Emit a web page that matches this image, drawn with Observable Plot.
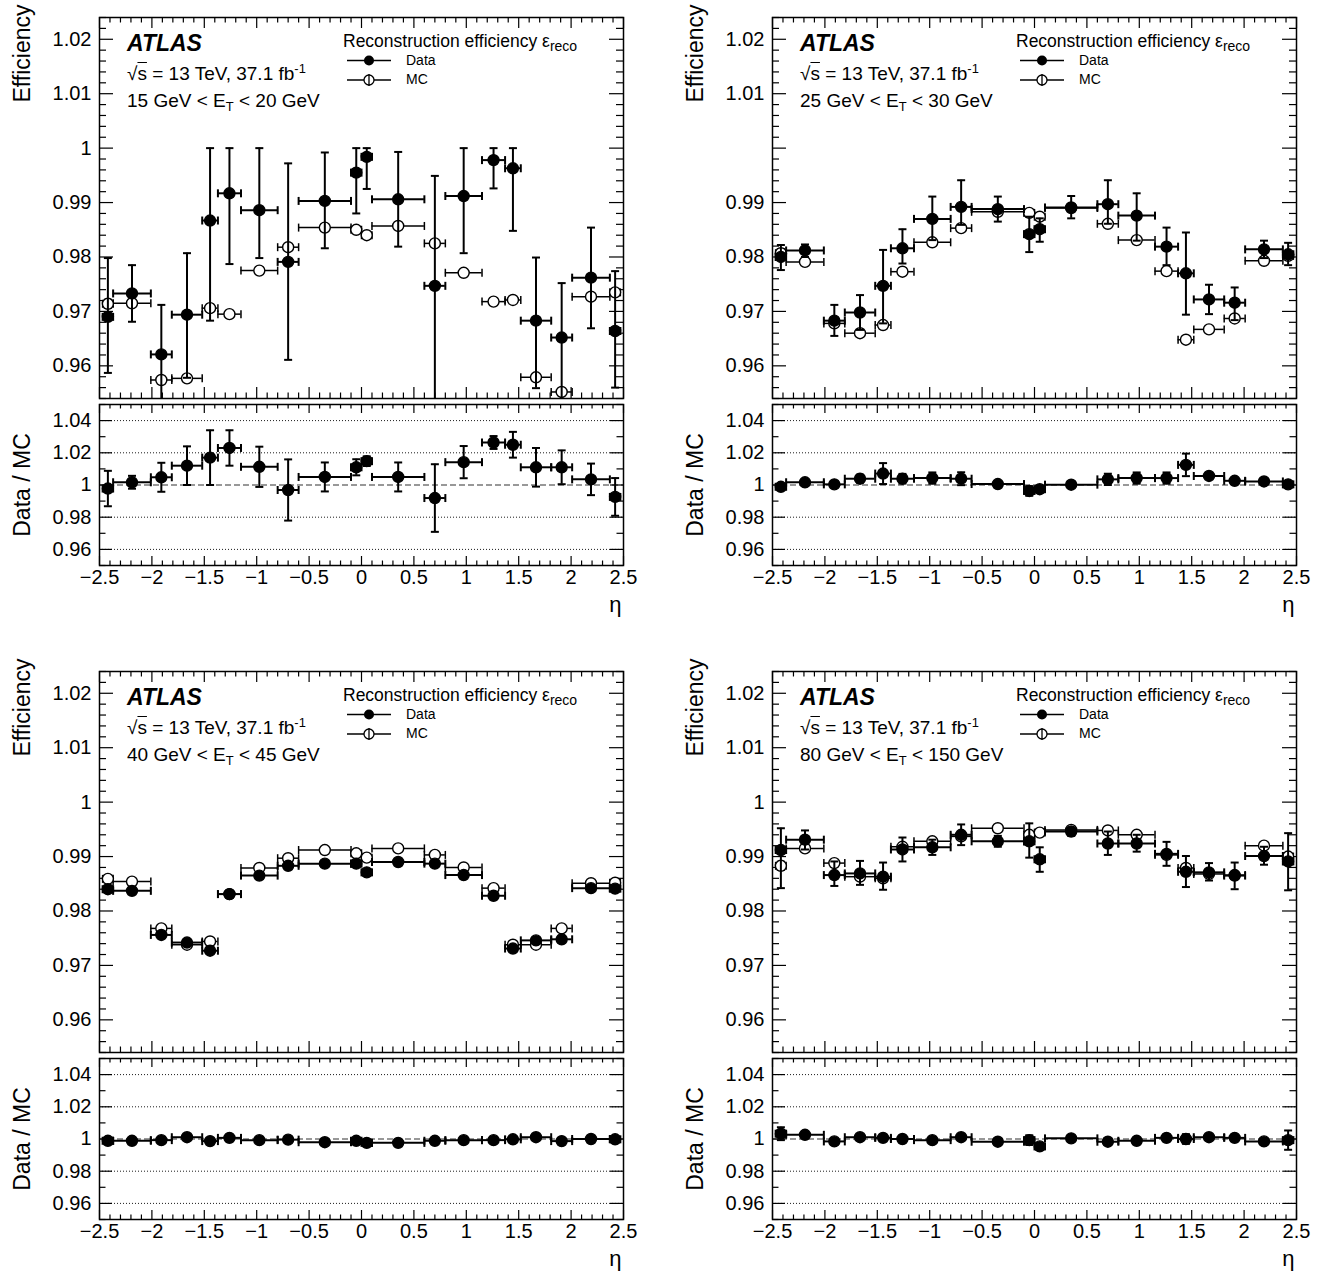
<!DOCTYPE html>
<html><head><meta charset="utf-8">
<script src="https://cdn.jsdelivr.net/npm/d3@7"></script>
<script src="https://cdn.jsdelivr.net/npm/@observablehq/plot@0.6"></script>
<style>
html,body{margin:0;padding:0;background:#fff;}
#root{position:relative;width:1320px;height:1280px;font-family:"Liberation Sans",Arial,sans-serif;color:#000;}
.pl{position:absolute;}
.ann{position:absolute;white-space:nowrap;line-height:1;font-family:"Liberation Sans",Arial,sans-serif;color:#000;}
.ann sub,.ann sup{font-size:0.68em;line-height:0;position:relative;vertical-align:baseline;}
.ann sup{top:-0.55em;}
.ann sub{top:0.32em;}
.ann .bigsub{font-size:0.8em;top:0.28em;}
</style></head>
<body><div id="root"></div>
<script>
// ---- eta binning ----
const etaEdges = [-2.47,-2.37,-2.01,-1.81,-1.52,-1.37,-1.15,-0.8,-0.6,-0.1,0,0.1,0.6,0.8,1.15,1.37,1.52,1.81,2.01,2.37,2.47];
const etaCenters = [-2.42,-2.19,-1.91,-1.665,-1.445,-1.26,-0.975,-0.7,-0.35,-0.05,0.05,0.35,0.7,0.975,1.26,1.445,1.665,1.91,2.19,2.42];
const xTickLabels = [-2.5,-2,-1.5,-1,-0.5,0,0.5,1,1.5,2,2.5];
const effTickLabels = [0.96,0.97,0.98,0.99,1,1.01,1.02];
const effTickLabelsNoOne = [0.96,0.97,0.98,0.99,1.01,1.02];
const ratioTickLabels = [0.96,0.98,1,1.02,1.04];
const etBins = ["15 GeV &lt; E<sub>T</sub> &lt; 20 GeV","25 GeV &lt; E<sub>T</sub> &lt; 30 GeV","40 GeV &lt; E<sub>T</sub> &lt; 45 GeV","80 GeV &lt; E<sub>T</sub> &lt; 150 GeV"];

// ---- 15 < ET < 20 GeV ----
const data15 = [0.9690,0.9733,0.9621,0.9694,0.9867,0.9917,0.9886,0.9791,0.9903,0.9955,0.9984,0.9906,0.9747,0.9912,0.9978,0.9963,0.9683,0.9652,0.9762,0.9664];
const data15Hi = [0.9798,0.9785,0.9712,0.9807,1.0000,1.0000,1.0000,0.9972,0.9992,1.0000,1.0000,0.9993,0.9949,1.0000,1.0000,1.0000,0.9799,0.9752,0.9854,0.9774];
const data15Lo = [0.9587,0.9681,0.9500,0.9578,0.9683,0.9787,0.9798,0.9611,0.9816,0.9880,0.9925,0.9819,0.9500,0.9807,0.9926,0.9848,0.9559,0.9500,0.9669,0.9560];
const mc15 = [0.9714,0.9715,0.9574,0.9577,0.9706,0.9695,0.9775,0.9818,0.9854,0.9850,0.9840,0.9857,0.9825,0.9771,0.9718,0.9721,0.9579,0.9552,0.9727,0.9735];
const mc15Err = [0.0008,0.0007,0.0006,0.0006,0.0007,0.0005,0.0005,0.0005,0.0003,0.0004,0.0004,0.0003,0.0005,0.0004,0.0005,0.0004,0.0006,0.0006,0.0006,0.0006];
const ratio15 = [0.9978,1.0017,1.0048,1.0120,1.0170,1.0230,1.0113,0.9969,1.0050,1.0110,1.0148,1.0050,0.9919,1.0142,1.0264,1.0250,1.0110,1.0110,1.0035,0.9926];
const ratio15Err = [0.011,0.004,0.009,0.012,0.017,0.011,0.0125,0.019,0.009,0.005,0.003,0.009,0.021,0.010,0.004,0.008,0.012,0.0105,0.0098,0.0117];

// ---- 25 < ET < 30 GeV ----
const data25 = [0.9800,0.9812,0.9683,0.9698,0.9747,0.9816,0.9870,0.9892,0.9888,0.9842,0.9851,0.9891,0.9897,0.9876,0.9819,0.9770,0.9722,0.9716,0.9814,0.9805];
const data25Hi = [0.9822,0.9823,0.9712,0.9730,0.9813,0.9851,0.9911,0.9941,0.9911,0.9874,0.9871,0.9912,0.9941,0.9917,0.9854,0.9845,0.9749,0.9744,0.9830,0.9826];
const data25Lo = [0.9776,0.9800,0.9655,0.9666,0.9678,0.9788,0.9831,0.9859,0.9865,0.9809,0.9828,0.9871,0.9861,0.9830,0.9785,0.9694,0.9695,0.9684,0.9798,0.9785];
const mc25 = [0.9807,0.9791,0.9678,0.9660,0.9675,0.9773,0.9827,0.9853,0.9883,0.9881,0.9874,0.9890,0.9861,0.9831,0.9774,0.9648,0.9667,0.9687,0.9793,0.9802];
const mc25Err = [0.0008,0.0004,0.0004,0.0003,0.0004,0.0004,0.0003,0.0003,0.0002,0.0002,0.0002,0.0002,0.0003,0.0003,0.0003,0.0003,0.0003,0.0003,0.0003,0.0005];
const ratio25 = [0.9989,1.0017,1.0004,1.0039,1.0071,1.0039,1.0043,1.0039,1.0006,0.9963,0.9974,1.0002,1.0035,1.0043,1.0043,1.0125,1.0056,1.0026,1.0022,1.0004];
const ratio25Err = [0.001,0.001,0.0012,0.0025,0.0065,0.003,0.0035,0.004,0.0005,0.003,0.002,0.0005,0.0035,0.0035,0.0035,0.007,0.001,0.0012,0.001,0.0012];

// ---- 40 < ET < 45 GeV ----
const data40 = [0.9840,0.9837,0.9756,0.9742,0.9727,0.9831,0.9865,0.9883,0.9887,0.9887,0.9871,0.9890,0.9887,0.9866,0.9828,0.9731,0.9746,0.9748,0.9842,0.9841];
const data40Hi = [0.9844,0.9839,0.9758,0.9744,0.9729,0.9833,0.9867,0.9885,0.9888,0.9889,0.9873,0.9891,0.9889,0.9868,0.9830,0.9733,0.9748,0.9750,0.9844,0.9845];
const data40Lo = [0.9836,0.9835,0.9754,0.9740,0.9725,0.9829,0.9863,0.9881,0.9886,0.9885,0.9869,0.9889,0.9885,0.9864,0.9826,0.9729,0.9744,0.9746,0.9840,0.9837];
const mc40 = [0.9859,0.9854,0.9768,0.9738,0.9744,0.9831,0.9879,0.9897,0.9912,0.9906,0.9898,0.9915,0.9903,0.9880,0.9842,0.9738,0.9738,0.9768,0.9851,0.9852];
const mc40Err = [0.0003,0.0002,0.0002,0.0002,0.0002,0.0002,0.0002,0.0002,0.0002,0.0002,0.0002,0.0002,0.0002,0.0002,0.0002,0.0002,0.0002,0.0002,0.0002,0.0003];
const ratio40 = [0.9989,0.9989,0.9993,1.0011,0.9987,1.0007,0.9993,0.9996,0.9980,0.9989,0.9976,0.9976,0.9989,0.9993,0.9993,0.9998,1.0011,0.9987,1.0000,0.9998];
const ratio40Err = [0.0006,0.0004,0.0004,0.0004,0.0004,0.0004,0.0004,0.0004,0.0003,0.0004,0.0004,0.0003,0.0004,0.0004,0.0004,0.0004,0.0004,0.0004,0.0004,0.0006];

// ---- 80 < ET < 150 GeV ----
const data80 = [0.9912,0.9931,0.9866,0.9869,0.9863,0.9913,0.9917,0.9940,0.9928,0.9928,0.9895,0.9946,0.9924,0.9924,0.9905,0.9872,0.9871,0.9865,0.9901,0.9891];
const data80Hi = [0.9952,0.9948,0.9891,0.9892,0.9889,0.9935,0.9931,0.9959,0.9938,0.9961,0.9917,0.9953,0.9946,0.9940,0.9927,0.9901,0.9888,0.9889,0.9918,0.9943];
const data80Lo = [0.9842,0.9913,0.9846,0.9848,0.9839,0.9891,0.9903,0.9921,0.9918,0.9898,0.9872,0.9938,0.9903,0.9909,0.9883,0.9844,0.9856,0.9840,0.9885,0.9838];
const mc80 = [0.9883,0.9915,0.9888,0.9863,0.9860,0.9918,0.9928,0.9937,0.9952,0.9940,0.9944,0.9949,0.9948,0.9940,0.9903,0.9879,0.9868,0.9866,0.9920,0.9900];
const mc80Err = [0.0008,0.0003,0.0005,0.0004,0.0005,0.0004,0.0003,0.0004,0.0002,0.0003,0.0003,0.0002,0.0003,0.0003,0.0003,0.0004,0.0004,0.0004,0.0004,0.0006];
const ratio80 = [1.0033,1.0026,0.9985,1.0011,1.0007,1.0000,0.9993,1.0011,0.9983,0.9993,0.9954,1.0004,0.9983,0.9989,1.0007,1.0000,1.0011,1.0007,0.9985,0.9993];
const ratio80Err = [0.004,0.001,0.001,0.001,0.002,0.001,0.001,0.001,0.001,0.003,0.002,0.0005,0.002,0.002,0.002,0.003,0.001,0.001,0.001,0.006];

const panels = [
  {ox:0,   oy:0,   et:etBins[0], data:data15, hi:data15Hi, lo:data15Lo, mc:mc15, mcErr:mc15Err, ratio:ratio15, rErr:ratio15Err, yLabels:effTickLabels},
  {ox:673, oy:0,   et:etBins[1], data:data25, hi:data25Hi, lo:data25Lo, mc:mc25, mcErr:mc25Err, ratio:ratio25, rErr:ratio25Err, yLabels:effTickLabelsNoOne},
  {ox:0,   oy:654, et:etBins[2], data:data40, hi:data40Hi, lo:data40Lo, mc:mc40, mcErr:mc40Err, ratio:ratio40, rErr:ratio40Err, yLabels:effTickLabels},
  {ox:673, oy:654, et:etBins[3], data:data80, hi:data80Hi, lo:data80Lo, mc:mc80, mcErr:mc80Err, ratio:ratio80, rErr:ratio80Err, yLabels:effTickLabels}
];

// ---- geometry ----
const PW = 660, ML = 99, MR = 37;
const FW = PW - ML - MR;          // frame width 524
const MAIN_H = 400, MAIN_T = 17, MAIN_B = 2;
const MAIN_FH = MAIN_H - MAIN_T - MAIN_B; // 381
const R_TOP = 400, R_H = 232, R_T = 4, R_FH = 161;
const FONT = "'Liberation Sans', Arial, Helvetica, sans-serif";

const fmtY = d => String(+d.toFixed(4));
const fmtX = d => (d < 0 ? "\u2212" : "") + String(Math.abs(d));

const hcap = {draw(ctx, size){const r = Math.sqrt(size/Math.PI); ctx.moveTo(-r,0); ctx.lineTo(r,0);}};
const vcap = {draw(ctx, size){const r = Math.sqrt(size/Math.PI); ctx.moveTo(0,-r); ctx.lineTo(0,r);}};

const near = (a,b) => Math.abs(a-b) < 1e-7;
function minorOf(start, stop, step, majors){
  return d3.range(Math.round((stop-start)/step)+1).map(i => +(start + i*step).toFixed(6)).filter(v => !majors.some(m => near(m,v)));
}
const xMajor = d3.range(11).map(i => -2.5 + i*0.5);
const xMinor = minorOf(-2.5, 2.5, 0.1, xMajor);

function frameTicks(fh, yMajor, yMinor, yMajLen, yMinLen, xMajLen, xMinLen){
  const s = {stroke:"black", strokeWidth:1.2};
  return [
    Plot.tickY(yMajor, {y:d=>d, insetRight: FW - yMajLen, ...s}),
    Plot.tickY(yMinor, {y:d=>d, insetRight: FW - yMinLen, ...s}),
    Plot.tickY(yMajor, {y:d=>d, insetLeft: FW - yMajLen, ...s}),
    Plot.tickY(yMinor, {y:d=>d, insetLeft: FW - yMinLen, ...s}),
    Plot.tickX(xMajor, {x:d=>d, insetTop: fh - xMajLen, ...s}),
    Plot.tickX(xMinor, {x:d=>d, insetTop: fh - xMinLen, ...s}),
    Plot.tickX(xMajor, {x:d=>d, insetBottom: fh - xMajLen, ...s}),
    Plot.tickX(xMinor, {x:d=>d, insetBottom: fh - xMinLen, ...s})
  ];
}

function errorMarks(rows, y, y1, y2, fill, sw){
  return [
    Plot.ruleY(rows, {y, x1:"lo", x2:"hi", stroke:"black", strokeWidth:sw, clip:true}),
    Plot.dot(rows, {x:"lo", y, symbol:vcap, r:4, stroke:"black", fill:"none", strokeWidth:sw, clip:true}),
    Plot.dot(rows, {x:"hi", y, symbol:vcap, r:4, stroke:"black", fill:"none", strokeWidth:sw, clip:true}),
    Plot.ruleX(rows, {x:"eta", y1, y2, stroke:"black", strokeWidth:sw, clip:true}),
    Plot.dot(rows, {x:"eta", y:y1, symbol:hcap, r:4, stroke:"black", fill:"none", strokeWidth:sw, clip:true}),
    Plot.dot(rows, {x:"eta", y:y2, symbol:hcap, r:4, stroke:"black", fill:"none", strokeWidth:sw, clip:true}),
    Plot.dot(rows, {x:"eta", y, r:5.5, fill, stroke:"black", strokeWidth:1.4, clip:true})
  ];
}

const root = document.getElementById("root");

function place(el, left, top){
  el.classList.add("pl");
  el.style.left = left + "px";
  el.style.top = top + "px";
  root.appendChild(el);
}

panels.forEach(p => {
  const rows = etaCenters.map((e,i) => ({
    eta:e, lo:etaEdges[i], hi:etaEdges[i+1],
    d:p.data[i], dHi:p.hi[i], dLo:p.lo[i],
    m:p.mc[i], mLo:p.mc[i]-p.mcErr[i], mHi:p.mc[i]+p.mcErr[i],
    r:p.ratio[i], rLo:p.ratio[i]-p.rErr[i], rHi:p.ratio[i]+p.rErr[i]
  }));

  // main efficiency panel
  const yMajor = effTickLabels;
  const yMinor = minorOf(0.954, 1.024, 0.002, yMajor);
  const main = Plot.plot({
    width: PW, height: MAIN_H,
    marginLeft: ML, marginRight: MR, marginTop: MAIN_T, marginBottom: MAIN_B,
    x: {domain:[-2.5,2.5], axis:null},
    y: {domain:[0.954,1.024]},
    style: {fontFamily: FONT, fontSize:"20px", background:"transparent", color:"black", overflow:"visible"},
    marks: [
      ...frameTicks(MAIN_FH, yMajor, yMinor, 14, 7, 11, 5.5),
      Plot.axisY(p.yLabels, {anchor:"left", tickSize:0, tickPadding:8, fontSize:20, tickFormat:fmtY}),
      Plot.text(["Efficiency"], {text:d=>d, frameAnchor:"top-left", dx:-77, dy:-13, rotate:-90, textAnchor:"end", lineAnchor:"middle", fontSize:23}),
      ...errorMarks(rows, "m", "mLo", "mHi", "white", 1.5),
      ...errorMarks(rows, "d", "dLo", "dHi", "black", 2),
      Plot.frame({stroke:"black", strokeWidth:1.5})
    ]
  });
  place(main, p.ox, p.oy);

  // ratio panel
  const rMajor = ratioTickLabels;
  const rMinor = [0.95,0.97,0.99,1.01,1.03,1.05];
  const ratio = Plot.plot({
    width: PW, height: R_H,
    marginLeft: ML, marginRight: MR, marginTop: R_T, marginBottom: R_H - R_T - R_FH,
    x: {domain:[-2.5,2.5]},
    y: {domain:[0.95,1.05]},
    style: {fontFamily: FONT, fontSize:"20px", background:"transparent", color:"black", overflow:"visible"},
    marks: [
      Plot.ruleY([0.96,0.98,1.02,1.04], {y:d=>d, stroke:"black", strokeWidth:0.9, strokeDasharray:"1,2"}),
      Plot.ruleY([1], {y:d=>d, stroke:"#777", strokeWidth:1.3, strokeDasharray:"6,3"}),
      ...frameTicks(R_FH, rMajor, rMinor, 13, 6.5, 9, 4.5),
      Plot.axisY(rMajor, {anchor:"left", tickSize:0, tickPadding:8, fontSize:20, tickFormat:fmtY}),
      Plot.axisX(xTickLabels, {anchor:"bottom", tickSize:0, tickPadding:4, fontSize:20, tickFormat:fmtX}),
      Plot.text(["η"], {text:d=>d, frameAnchor:"bottom-right", dx:-2, dy:46, textAnchor:"end", fontSize:22}),
      Plot.text(["Data / MC"], {text:d=>d, frameAnchor:"left", dx:-77, rotate:-90, textAnchor:"middle", lineAnchor:"middle", fontSize:23}),
      ...errorMarks(rows, "r", "rLo", "rHi", "black", 2),
      Plot.frame({stroke:"black", strokeWidth:1.5})
    ]
  });
  place(ratio, p.ox, p.oy + R_TOP);

  // annotations
  const ann = (html, left, baseline, size, extra="") => {
    const d = document.createElement("div");
    d.className = "ann";
    d.innerHTML = html;
    d.style.left = (p.ox + left) + "px";
    d.style.top = (p.oy + baseline - 0.8465*size) + "px";
    d.style.fontSize = size + "px";
    if (extra) d.style.cssText += extra;
    root.appendChild(d);
  };
  ann("ATLAS", 127, 51, 23, "font-weight:bold;font-style:italic;");
  ann('&radic;<span style="text-decoration:overline">s</span> = 13 TeV, 37.1 fb<sup>-1</sup>', 127, 80, 19);
  ann(p.et, 127, 107, 19);
  ann('Reconstruction efficiency &epsilon;<sub class="bigsub">reco</sub>', 343, 48, 17.5);
  ann("Data", 406, 65, 14);
  ann("MC", 406, 84, 14);

  // legend samples
  const svg = d3.create("svg").attr("width", 120).attr("height", 50)
    .style("position","absolute").style("left",(p.ox+330)+"px").style("top",(p.oy+50)+"px");
  svg.append("line").attr("x1",17).attr("x2",61).attr("y1",10.5).attr("y2",10.5).attr("stroke","black").attr("stroke-width",1.5);
  svg.append("circle").attr("cx",39).attr("cy",10.5).attr("r",5).attr("fill","black");
  svg.append("line").attr("x1",17).attr("x2",61).attr("y1",30).attr("y2",30).attr("stroke","black").attr("stroke-width",1.5);
  svg.append("circle").attr("cx",39).attr("cy",30).attr("r",5).attr("fill","white").attr("stroke","black").attr("stroke-width",1.3);
  svg.append("line").attr("x1",39).attr("x2",39).attr("y1",24).attr("y2",36).attr("stroke","black").attr("stroke-width",1.3);
  root.appendChild(svg.node());
});
</script>
</body></html>
